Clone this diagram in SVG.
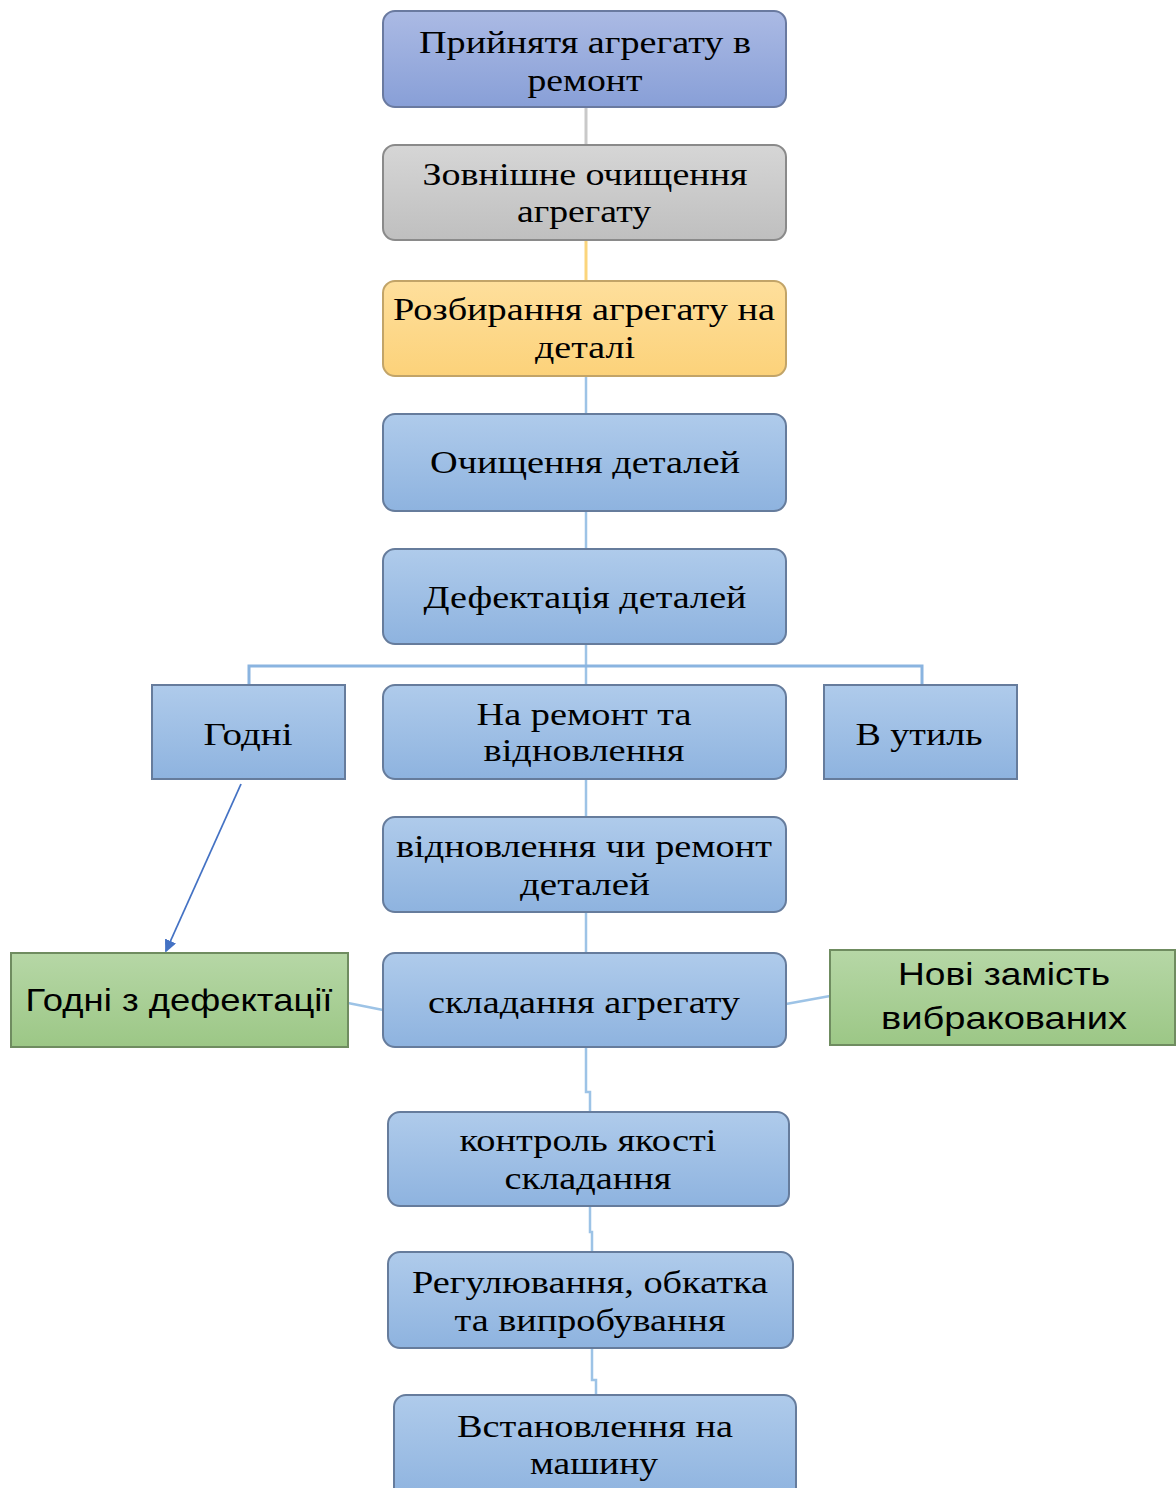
<svg xmlns="http://www.w3.org/2000/svg" width="1176" height="1488" viewBox="0 0 1176 1488">
<defs>
<linearGradient id="gBlue" x1="0" y1="0" x2="0" y2="1"><stop offset="0" stop-color="#afcbeb"/><stop offset="1" stop-color="#8eb3df"/></linearGradient>
<linearGradient id="gPurple" x1="0" y1="0" x2="0" y2="1"><stop offset="0" stop-color="#abbae4"/><stop offset="1" stop-color="#889fd7"/></linearGradient>
<linearGradient id="gGray" x1="0" y1="0" x2="0" y2="1"><stop offset="0" stop-color="#d6d6d6"/><stop offset="1" stop-color="#bfbfbf"/></linearGradient>
<linearGradient id="gYellow" x1="0" y1="0" x2="0" y2="1"><stop offset="0" stop-color="#fedf9c"/><stop offset="1" stop-color="#fcd27a"/></linearGradient>
<linearGradient id="gGreen" x1="0" y1="0" x2="0" y2="1"><stop offset="0" stop-color="#b6d7a6"/><stop offset="1" stop-color="#9cc786"/></linearGradient>
<marker id="arr" markerWidth="13" markerHeight="12" refX="11" refY="6" orient="auto" markerUnits="userSpaceOnUse"><path d="M0,0 L13,6 L0,12 z" fill="#4472c4"/></marker>
</defs>
<style>
.n{stroke-width:2}
.blue{fill:url(#gBlue);stroke:#667c9c}
.t{font-family:"Liberation Serif","Times New Roman",serif;font-size:32px;fill:#000;text-anchor:middle}
.s{font-family:"Liberation Sans",Arial,sans-serif;font-size:32px;fill:#000;text-anchor:middle}
.c{fill:none;stroke:#9dc3e6;stroke-width:2.5}
</style>
<rect width="1176" height="1488" fill="#ffffff"/>
<g id="connectors">
<line x1="586" y1="107" x2="586" y2="145" stroke="#c9c9c9" stroke-width="3"/>
<line x1="586" y1="240" x2="586" y2="281" stroke="#fbd57c" stroke-width="3"/>
<line class="c" x1="586" y1="376" x2="586" y2="414"/>
<line class="c" x1="586" y1="511" x2="586" y2="549"/>
<path class="c" d="M586,644 V685"/>
<path d="M249,685 V666 H922 V685" fill="none" stroke="#8ab4e0" stroke-width="3"/>
<line class="c" x1="586" y1="779" x2="586" y2="817"/>
<line class="c" x1="586" y1="912" x2="586" y2="953"/>
<line x1="241" y1="784" x2="166" y2="951" stroke="#4472c4" stroke-width="1.8" marker-end="url(#arr)"/>
<line class="c" x1="383" y1="1010" x2="348" y2="1003"/>
<line class="c" x1="786" y1="1004" x2="830" y2="996"/>
<path class="c" d="M586,1048 V1092 H590 V1112"/>
<path class="c" d="M590,1206 V1232 H592 V1252"/>
<path class="c" d="M592,1348 V1380 H596 V1395"/>
</g>
<g id="node1"><rect class="n" x="383" y="11" width="403" height="96" rx="12" fill="url(#gPurple)" stroke="#6a7aa0"/>
<text class="t" x="585" y="53" textLength="332" lengthAdjust="spacingAndGlyphs">Прийнятя агрегату в</text>
<text class="t" x="585" y="91" textLength="115" lengthAdjust="spacingAndGlyphs">ремонт</text></g>
<g id="node2"><rect class="n" x="383" y="145" width="403" height="95" rx="12" fill="url(#gGray)" stroke="#8a8a8a"/>
<text class="t" x="585" y="185" textLength="325" lengthAdjust="spacingAndGlyphs">Зовнішне очищення</text>
<text class="t" x="584" y="222" textLength="134" lengthAdjust="spacingAndGlyphs">агрегату</text></g>
<g id="node3"><rect class="n" x="383" y="281" width="403" height="95" rx="12" fill="url(#gYellow)" stroke="#c2a468"/>
<text class="t" x="584" y="320" textLength="382" lengthAdjust="spacingAndGlyphs">Розбирання агрегату на</text>
<text class="t" x="585" y="358" textLength="100" lengthAdjust="spacingAndGlyphs">деталі</text></g>
<g id="node4"><rect class="n blue" x="383" y="414" width="403" height="97" rx="12"/>
<text class="t" x="585" y="473" textLength="310" lengthAdjust="spacingAndGlyphs">Очищення деталей</text></g>
<g id="node5"><rect class="n blue" x="383" y="549" width="403" height="95" rx="12"/>
<text class="t" x="585" y="608" textLength="323" lengthAdjust="spacingAndGlyphs">Дефектація деталей</text></g>
<g id="node6"><rect class="n blue" x="152" y="685" width="193" height="94"/>
<text class="t" x="248" y="745" textLength="89" lengthAdjust="spacingAndGlyphs">Годні</text></g>
<g id="node7"><rect class="n blue" x="383" y="685" width="403" height="94" rx="12"/>
<text class="t" x="584" y="725" textLength="215" lengthAdjust="spacingAndGlyphs">На ремонт та</text>
<text class="t" x="584" y="761" textLength="201" lengthAdjust="spacingAndGlyphs">відновлення</text></g>
<g id="node8"><rect class="n blue" x="824" y="685" width="193" height="94"/>
<text class="t" x="919" y="745" textLength="127" lengthAdjust="spacingAndGlyphs">В утиль</text></g>
<g id="node9"><rect class="n blue" x="383" y="817" width="403" height="95" rx="12"/>
<text class="t" x="584" y="857" textLength="376" lengthAdjust="spacingAndGlyphs">відновлення чи ремонт</text>
<text class="t" x="585" y="895" textLength="130" lengthAdjust="spacingAndGlyphs">деталей</text></g>
<g id="node10"><rect class="n" x="11" y="953" width="337" height="94" fill="url(#gGreen)" stroke="#6f8c60"/>
<text class="s" x="179" y="1011" textLength="307" lengthAdjust="spacingAndGlyphs">Годні з дефектації</text></g>
<g id="node11"><rect class="n blue" x="383" y="953" width="403" height="94" rx="12"/>
<text class="t" x="584" y="1013" textLength="312" lengthAdjust="spacingAndGlyphs">складання агрегату</text></g>
<g id="node12"><rect class="n" x="830" y="950" width="345" height="95" fill="url(#gGreen)" stroke="#6f8c60"/>
<text class="s" x="1004" y="985" textLength="212" lengthAdjust="spacingAndGlyphs">Нові замість</text>
<text class="s" x="1004" y="1029" textLength="246" lengthAdjust="spacingAndGlyphs">вибракованих</text></g>
<g id="node13"><rect class="n blue" x="388" y="1112" width="401" height="94" rx="12"/>
<text class="t" x="588" y="1151" textLength="257" lengthAdjust="spacingAndGlyphs">контроль якості</text>
<text class="t" x="588" y="1189" textLength="167" lengthAdjust="spacingAndGlyphs">складання</text></g>
<g id="node14"><rect class="n blue" x="388" y="1252" width="405" height="96" rx="12"/>
<text class="t" x="590" y="1293" textLength="356" lengthAdjust="spacingAndGlyphs">Регулювання, обкатка</text>
<text class="t" x="590" y="1331" textLength="271" lengthAdjust="spacingAndGlyphs">та випробування</text></g>
<g id="node15"><rect class="n blue" x="394" y="1395" width="402" height="105" rx="12"/>
<text class="t" x="595" y="1437" textLength="276" lengthAdjust="spacingAndGlyphs">Встановлення на</text>
<text class="t" x="594" y="1474" textLength="128" lengthAdjust="spacingAndGlyphs">машину</text></g>
</svg>
